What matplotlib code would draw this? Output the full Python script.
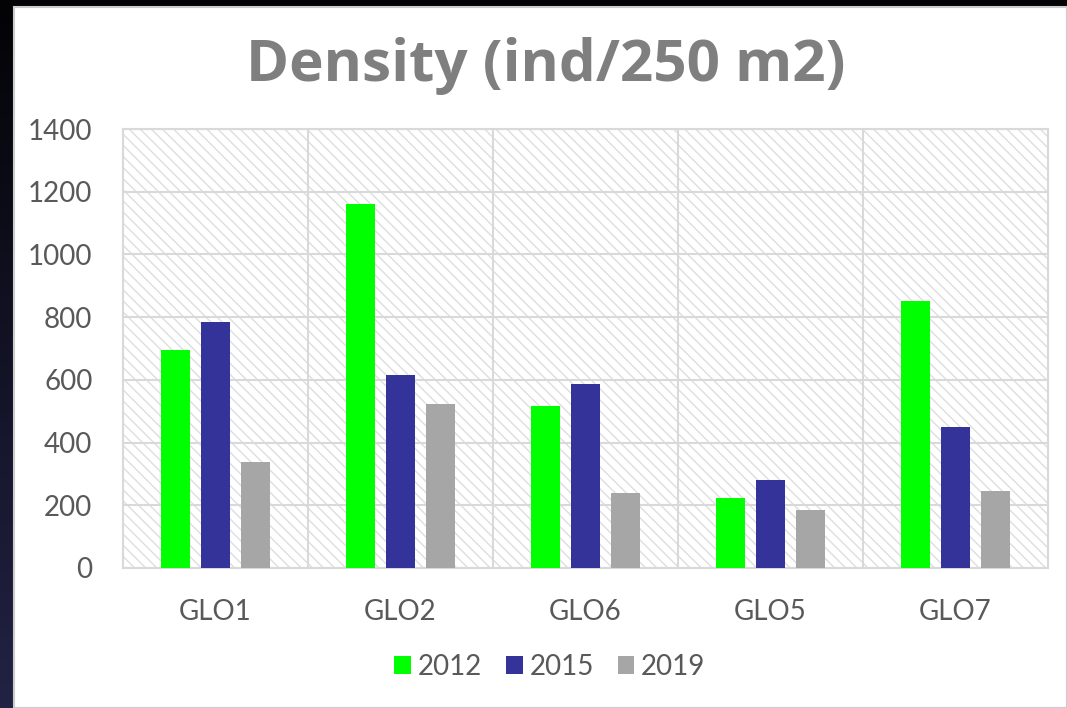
import matplotlib.pyplot as plt
import numpy as np
from matplotlib.patches import Rectangle

# --- data ---
sites = ['GLO1', 'GLO2', 'GLO6', 'GLO5', 'GLO7']
years = ['2012', '2015', '2019']
d2012 = [695, 1161, 518, 224, 851]
d2015 = [783, 614, 588, 280, 450]
d2019 = [337, 523, 239, 185, 246]
yticks = [0, 200, 400, 600, 800, 1000, 1200, 1400]

colors = ['#00FF00', '#333399', '#A6A6A6']
text_grey = '#595959'
grid_grey = '#D9D9D9'

plt.rcParams['font.family'] = ['Lato', 'DejaVu Sans']
plt.rcParams['hatch.color'] = '#DEDEDE'
plt.rcParams['hatch.linewidth'] = 1.0

W, H = 1067, 708
fig = plt.figure(figsize=(W / 100, H / 100), dpi=100)
fig.patch.set_facecolor('black')

# dark backdrop with a faint blue tint towards the bottom left
bg = fig.add_axes([0, 0, 1, 1])
bg.set_axis_off()
grad = np.linspace(0, 1, 200)[:, None] * np.ones((1, 10))
bg.imshow(grad, extent=(0, 1, 0, 1), aspect='auto', origin='upper',
          cmap=plt.matplotlib.colors.LinearSegmentedColormap.from_list(
              'bgc', ['#030306', '#222244']))
bg.set_xlim(0, 1)
bg.set_ylim(0, 1)
bg.add_patch(Rectangle((14 / W, 0), 1 - 14 / W, 1 - 7 / H,
                       facecolor='white', edgecolor='#CCCCCC', lw=1.5,
                       transform=bg.transAxes))

# plot area
ax = fig.add_axes([123 / W, 1 - 568 / H, (1048 - 123) / W, (568 - 129) / H])
ax.set_facecolor('white')
ax.add_patch(Rectangle((0, 0), 1, 1, transform=ax.transAxes, facecolor='white',
                       edgecolor='#DEDEDE', lw=0, hatch='\\\\\\', zorder=0))

x = np.arange(len(sites))
width = 0.155
offset = 0.216
for i, (vals, c, lab) in enumerate(zip([d2012, d2015, d2019], colors, years)):
    ax.bar(x + (i - 1) * offset, vals, width, color=c, label=lab, zorder=3)

ax.set_xlim(-0.5, len(sites) - 0.5)
ax.set_ylim(0, 1400)
ax.set_yticks(yticks)
ax.set_xticks(x)
ax.set_xticklabels(sites)
for xv in np.arange(0.5, len(sites) - 0.5):
    ax.axvline(xv, color=grid_grey, lw=1.5, zorder=1)
ax.yaxis.grid(True, color=grid_grey, lw=1.5, zorder=1)
ax.set_axisbelow(True)
for s in ax.spines.values():
    s.set_color(grid_grey)
    s.set_linewidth(1.5)
ax.tick_params(length=0, labelsize=20, colors=text_grey)
ax.tick_params(axis='y', pad=22)
ax.tick_params(axis='x', pad=22)

fig.text(546 / W, 1 - 66 / H, 'Density (ind/250 m2)', ha='center', va='center',
         fontsize=42, fontweight='bold', color='#7F7F7F', family='Open Sans')

fig.legend(loc='center', bbox_to_anchor=(550 / W, 1 - 667 / H), ncol=3,
           frameon=False, fontsize=20, labelcolor=text_grey,
           handlelength=0.6, handleheight=0.6, handletextpad=0.25,
           columnspacing=0.85)

fig.savefig('out.png', dpi=100, facecolor=fig.get_facecolor())
